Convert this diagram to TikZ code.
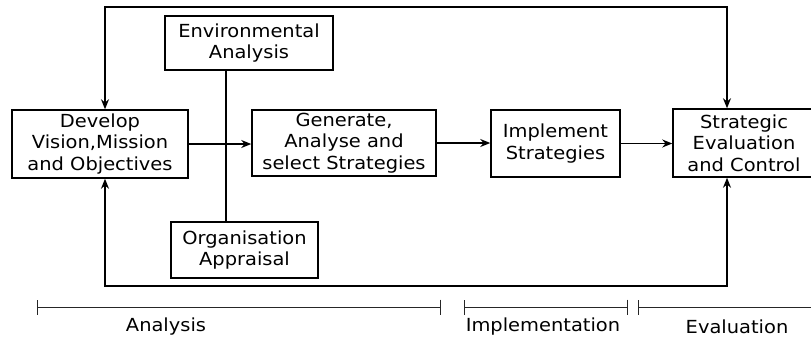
\documentclass[tikz,border=0pt]{standalone}
\usepackage{fontspec}
\setmainfont{DejaVu Sans}[FakeStretch=1.08]
\usetikzlibrary{arrows.meta}
\begin{document}
\begin{tikzpicture}[x=1pt,y=-1pt,
  box/.style={draw=black, line width=1.5pt, inner sep=0pt, align=center,
    font=\fontsize{18}{21.7}\selectfont},
  conn/.style={draw=black, line width=1.6pt},
  tip/.style={-{Stealth[length=10pt,width=8pt]}},
  both/.style={{Stealth[length=10pt,width=8pt]}-{Stealth[length=10pt,width=8pt]}},
  tl/.style={draw=black!85, line width=1pt, {Bar[width=15pt]}-{Bar[width=15pt]}},
  lbl/.style={font=\fontsize{18}{21.7}\selectfont, inner sep=0pt}]
\clip (0,0) rectangle (811,338);
\fill[white] (0,0) rectangle (811,338);
% boxes
\node[box, minimum width=176pt, minimum height=68pt] (dev) at (100,144) {Develop\\Vision,Mission\\and Objectives};
\node[box, minimum width=168pt, minimum height=54pt] (env) at (249,43) {Environmental\\Analysis};
\node[box, minimum width=147pt, minimum height=56pt] (org) at (244.5,250) {Organisation\\Appraisal};
\node[box, minimum width=184pt, minimum height=66pt] (gen) at (344,143) {Generate,\\Analyse and\\select Strategies};
\node[box, minimum width=129pt, minimum height=67pt] (imp) at (555.5,143.5) {Implement\\Strategies};
\node[box, minimum width=142pt, minimum height=68pt] (sec) at (744,143) {Strategic\\Evaluation\\and Control};
% coordinates
\coordinate (tlc) at (105,7);
\coordinate (trc) at (727,7);
\coordinate (blc) at (105,286);
\coordinate (brc) at (727,286);
\coordinate (vx) at (226,0);
% connectors
\draw[conn] (vx |- env.south) -- (vx |- org.north);
\draw[conn, tip] (dev.east) -- (dev.east -| gen.west);
\draw[conn, tip] (gen.east) -- (gen.east -| imp.west);
\draw[conn, tip] (imp.east) -- (imp.east -| sec.west);
\draw[conn, both] (tlc |- dev.north) -- (tlc) -- (trc) -- (trc |- sec.north);
\draw[conn, both] (blc |- dev.south) -- (blc) -- (brc) -- (brc |- sec.south);
% timeline
\coordinate (a1) at (37,307);
\coordinate (a2) at (441,307);
\coordinate (i1) at (464,307);
\coordinate (i2) at (628,307);
\coordinate (e1) at (638,307);
\coordinate (e2) at (830,307);
\draw[tl] (a1) -- (a2);
\draw[tl] (i1) -- (i2);
\draw[tl] (e1) -- (e2);
\node[lbl] (la) at (166,327) {Analysis};
\node[lbl] (li) at (543,327) {Implementation};
\node[lbl] (le) at (737,327) {Evaluation};
\end{tikzpicture}
\end{document}
